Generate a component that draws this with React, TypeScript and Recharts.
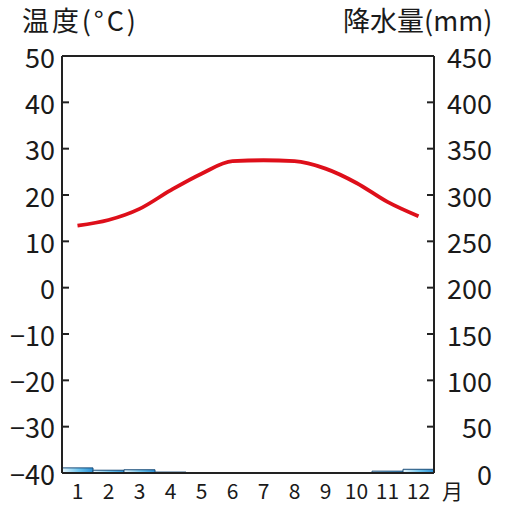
import React from "react";
import { Bar, ComposedChart, Line, ReferenceLine, XAxis, YAxis } from "recharts";

const months = ["1", "2", "3", "4", "5", "6", "7", "8", "9", "10", "11", "12"];
const temperature = [13.4, 14.6, 17.0, 21.0, 24.6, 27.3, 27.5, 27.3, 25.7, 22.6, 18.5, 15.4];
const precipitation = [5.5, 3, 3.5, 1, 0, 0, 0, 0, 0, 0.5, 2, 4];
const tempTicks = [-40, -30, -20, -10, 0, 10, 20, 30, 40, 50];
const precipTicks = [0, 50, 100, 150, 200, 250, 300, 350, 400, 450];

const data = months.map((month, i) => ({ month, temp: temperature[i], precip: precipitation[i] }));

const FONT = '"Noto Sans CJK JP", "Noto Sans", sans-serif';
const INK = "#222";

const fmt = (v: number) => (v < 0 ? "\u2212" + Math.abs(v) : String(v));

function LeftTick(props: any) {
  const { x, y, payload } = props;
  return <g>
    <line x1={x + 7} x2={x + 14} y1={y} y2={y} stroke={INK} strokeWidth={2} />
    <text x={x} y={y} textAnchor="end" dominantBaseline="central" fontFamily={FONT} fontSize={27} fill="#1a1a1a">{fmt(payload.value)}</text>
  </g>;
}

function RightTick(props: any) {
  const { x, y, payload } = props;
  return <g>
    <line x1={x - 6} x2={x - 13} y1={y} y2={y} stroke={INK} strokeWidth={2} />
    <text x={x + 52} y={y} textAnchor="end" dominantBaseline="central" fontFamily={FONT} fontSize={27} fill="#1a1a1a">{payload.value}</text>
  </g>;
}

function MonthTick(props: any) {
  const { x, y, payload } = props;
  return <text x={x} y={y} textAnchor="middle" dominantBaseline="central" fontFamily={FONT} fontSize={21} fill="#1a1a1a">{payload.value}</text>;
}

export default function App() {
  return <div style={{ position: "absolute", left: 0, top: 0, width: 506, height: 505, background: "#fff" }}>
    <ComposedChart width={506} height={505} data={data} margin={{ top: 56, right: 0, bottom: 0, left: 0 }} barCategoryGap={0}>
      <defs>
        <linearGradient id="rain" x1="0" y1="0" x2="1" y2="0">
          <stop offset="0%" stopColor="#e6f7ff" />
          <stop offset="55%" stopColor="#6cc4ee" />
          <stop offset="100%" stopColor="#2a8fd3" />
        </linearGradient>
      </defs>
      <XAxis dataKey="month" xAxisId="m" height={32} interval={0} tickSize={0} tickMargin={17} tickLine={false} tick={<MonthTick />} axisLine={{ stroke: INK, strokeWidth: 2 }} />
      <YAxis yAxisId="temp" orientation="left" width={62} domain={[-40, 50]} ticks={tempTicks} interval={0} tickSize={0} tickMargin={7} tickLine={false} tick={<LeftTick />} axisLine={{ stroke: INK, strokeWidth: 2 }} />
      <YAxis yAxisId="precip" orientation="right" width={72} domain={[0, 450]} ticks={precipTicks} interval={0} tickSize={0} tickMargin={6} tickLine={false} tick={<RightTick />} axisLine={{ stroke: INK, strokeWidth: 2 }} />
      <ReferenceLine xAxisId="m" yAxisId="temp" y={50} stroke={INK} strokeWidth={2} />
      <Bar xAxisId="m" yAxisId="precip" dataKey="precip" fill="url(#rain)" stroke="#1b4d78" strokeWidth={1} isAnimationActive={false} />
      <Line xAxisId="m" yAxisId="temp" dataKey="temp" type="monotone" stroke="#de0f1a" strokeWidth={3.8} dot={false} activeDot={false} isAnimationActive={false} />
    </ComposedChart>
    <svg width={506} height={505} style={{ position: "absolute", left: 0, top: 0, pointerEvents: "none" }}>
      <text x={22} y={31} fontFamily={FONT} fontSize={27} fill="#1a1a1a" textLength={114} lengthAdjust="spacing">温度(°C)</text>
      <text x={343} y={31} fontFamily={FONT} fontSize={27} fill="#1a1a1a">降水量(mm)</text>
      <text x={442} y={490} dominantBaseline="central" fontFamily={FONT} fontSize={21} fill="#1a1a1a">月</text>
    </svg>
  </div>;
}
